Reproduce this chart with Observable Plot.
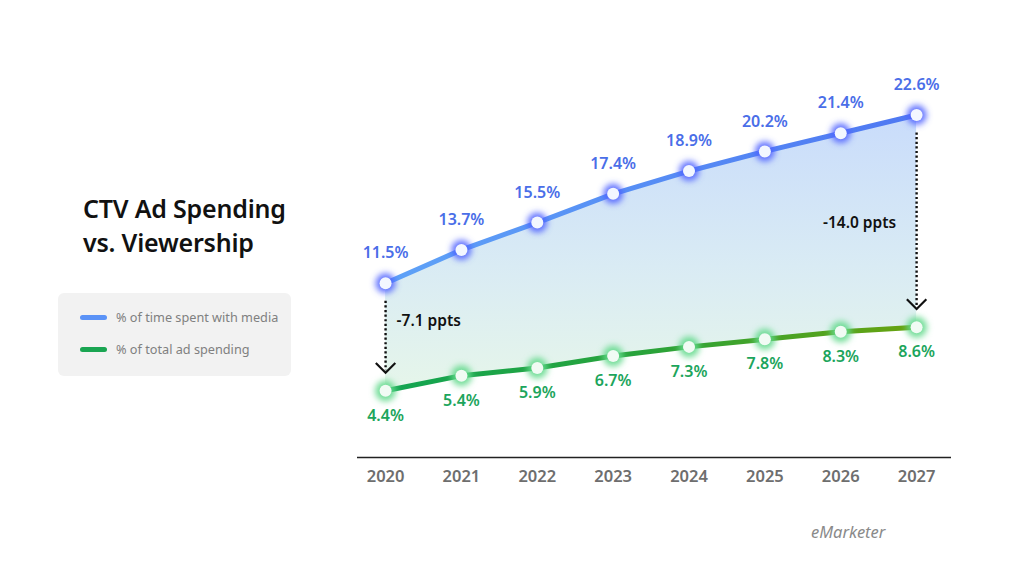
<!DOCTYPE html>
<html>
<head>
<meta charset="utf-8">
<script src="https://cdn.jsdelivr.net/npm/d3@7"></script>
<script src="https://cdn.jsdelivr.net/npm/@observablehq/plot@0.6"></script>
<style>
  html, body { margin: 0; padding: 0; background: #fff; }
  #wrap { position: relative; width: 1024px; height: 580px; font-family: "Noto Sans", sans-serif; overflow: hidden; }
  #chart { position: absolute; left: 0; top: 0; }
  #title { position: absolute; left: 83px; top: 191px; font-size: 25px; font-weight: 600; line-height: 34px; color: #111; letter-spacing: -0.2px; }
  #legend { position: absolute; left: 58px; top: 293px; width: 233px; height: 83px; background: #f2f2f2; border-radius: 6px; }
  .li { position: absolute; left: 22px; display: flex; align-items: center; font-size: 12.7px; color: #808080; }
  .sw { width: 27px; height: 5px; border-radius: 3px; margin-right: 9px; }
  #source { position: absolute; left: 811px; top: 520px; font-size: 16.5px; font-style: italic; color: #8a8a8a; }
</style>
</head>
<body>
<div id="wrap">
  <div id="chart"></div>
  <div id="title">CTV Ad Spending<br>vs. Viewership</div>
  <div id="legend">
    <div class="li" style="top:15px"><div class="sw" style="background:#5b93f7"></div>% of time spent with media</div>
    <div class="li" style="top:47px"><div class="sw" style="background:#1aa552"></div>% of total ad spending</div>
  </div>
  <div id="source">eMarketer</div>
</div>
<script>
const years = [2020, 2021, 2022, 2023, 2024, 2025, 2026, 2027];
const timeSpent = [11.5, 13.7, 15.5, 17.4, 18.9, 20.2, 21.4, 22.6];
const adSpending = [4.4, 5.4, 5.9, 6.7, 7.3, 7.8, 8.3, 8.6];
const gapLabels = ["-7.1 ppts", "-14.0 ppts"];

const rows = years.map((y, i) => ({year: y, top: timeSpent[i], bottom: adSpending[i]}));
const firstRow = rows[0], lastRow = rows[rows.length - 1];

const chevron = {
  draw(context, size) {
    const r = Math.sqrt(size) / 2;
    context.moveTo(-r, -r * 0.5);
    context.lineTo(0, r * 0.5);
    context.lineTo(r, -r * 0.5);
  }
};

const chart = Plot.plot({
  width: 1024,
  height: 580,
  marginLeft: 357,
  marginRight: 73,
  marginTop: 63,
  marginBottom: 123,
  style: {fontFamily: "Noto Sans, sans-serif", background: "transparent", overflow: "visible"},
  x: {type: "linear", domain: [2019.63, 2027.46], axis: null},
  y: {domain: [0, 26], axis: null},
  marks: [
    Plot.areaY(rows, {x: "year", y1: "bottom", y2: "top", fill: "url(#areaGrad)"}),
    Plot.ruleY([0], {stroke: "#222", strokeWidth: 1.6}),
    Plot.text(years, {x: d => d, y: 0, dy: 19, text: d => String(d), fill: "#6e6e6e", fontSize: 16.5, fontWeight: 600}),
    Plot.lineY(rows, {x: "year", y: "top", stroke: "url(#blueGrad)", strokeWidth: 5}),
    Plot.lineY(rows, {x: "year", y: "bottom", stroke: "url(#greenGrad)", strokeWidth: 5}),
    Plot.dot(rows, {x: "year", y: "top", r: 10, fill: "#4f62ff", fillOpacity: 0.9}),
    Plot.dot(rows, {x: "year", y: "bottom", r: 10.5, fill: "#62d98c", fillOpacity: 0.9}),
    Plot.dot(rows, {x: "year", y: "top", r: 6, fill: "#f3f7ff"}),
    Plot.dot(rows, {x: "year", y: "bottom", r: 6, fill: "#f1fbf4"}),
    Plot.text(rows, {x: "year", y: "top", dy: -30, text: d => d.top.toFixed(1) + "%", fill: "#4a6ee8", fontSize: 16, fontWeight: 600}),
    Plot.text(rows, {x: "year", y: "bottom", dy: 25, text: d => d.bottom.toFixed(1) + "%", fill: "#1ca55c", fontSize: 16, fontWeight: 600}),
    // gap arrows
    Plot.ruleX([firstRow, lastRow], {x: "year", y1: d => d.top, y2: d => d.bottom, insetTop: 18, insetBottom: 20, stroke: "#111", strokeWidth: 2.4, strokeDasharray: "2.2,2.4"}),
    Plot.dot([firstRow, lastRow], {x: "year", y: "bottom", dy: -23, symbol: chevron, r: 11, fill: "none", stroke: "#111", strokeWidth: 2.2}),
    Plot.text([firstRow], {x: "year", y: d => (d.top + d.bottom) / 2 + 1.03, dx: 11, text: () => gapLabels[0], textAnchor: "start", fill: "#111", fontSize: 15.5, fontWeight: 600}),
    Plot.text([lastRow], {x: "year", y: d => (d.top + d.bottom) / 2 - 0.1, dx: -57, text: () => gapLabels[1], fill: "#111", fontSize: 15.5, fontWeight: 600})
  ]
});

const svg = d3.select(chart);
const defs = svg.insert("defs", ":first-child");
const ag = defs.append("linearGradient").attr("id", "areaGrad").attr("x1", 0).attr("y1", 0).attr("x2", 0).attr("y2", 1);
ag.append("stop").attr("offset", "0%").attr("stop-color", "#c9dcfb");
ag.append("stop").attr("offset", "55%").attr("stop-color", "#d9ebf4");
ag.append("stop").attr("offset", "100%").attr("stop-color", "#e6f6ea");
const bg = defs.append("linearGradient").attr("id", "blueGrad").attr("gradientUnits", "userSpaceOnUse").attr("x1", 385).attr("y1", 0).attr("x2", 916).attr("y2", 0);
bg.append("stop").attr("offset", "0%").attr("stop-color", "#5ea2f7");
bg.append("stop").attr("offset", "100%").attr("stop-color", "#4f78f2");
const gg = defs.append("linearGradient").attr("id", "greenGrad").attr("gradientUnits", "userSpaceOnUse").attr("x1", 385).attr("y1", 0).attr("x2", 916).attr("y2", 0);
gg.append("stop").attr("offset", "0%").attr("stop-color", "#12a552");
gg.append("stop").attr("offset", "50%").attr("stop-color", "#2aa33a");
gg.append("stop").attr("offset", "100%").attr("stop-color", "#69a30f");
const blur = defs.append("filter").attr("id", "glow").attr("x", "-50%").attr("y", "-50%").attr("width", "200%").attr("height", "200%");
blur.append("feGaussianBlur").attr("stdDeviation", 3.2);

// first two dot groups are the halos
const dotGroups = svg.selectAll('g[aria-label="dot"]').nodes();
dotGroups.slice(0, 2).forEach(g => g.setAttribute("filter", "url(#glow)"));

document.getElementById("chart").appendChild(chart);
</script>
</body>
</html>
